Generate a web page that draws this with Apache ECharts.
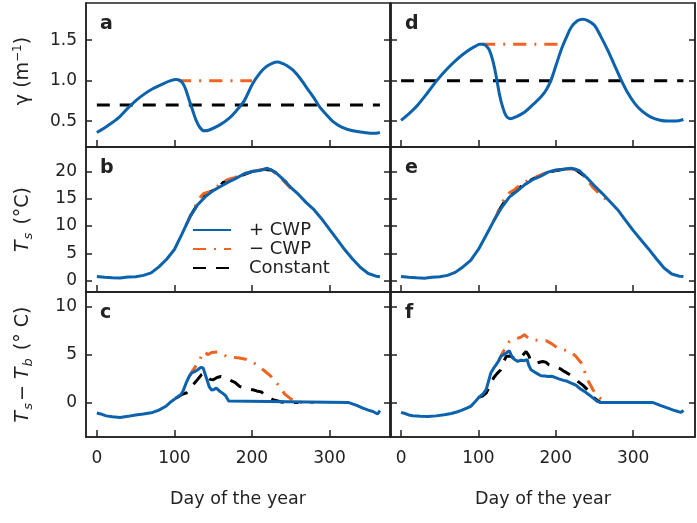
<!DOCTYPE html>
<html><head><meta charset="utf-8">
<script src="https://cdn.jsdelivr.net/npm/echarts@6/dist/echarts.min.js"></script>
<style>html,body{margin:0;padding:0;background:#fff}#c{width:697px;height:523px}</style>
</head><body><div id="c"></div>
<script>
// ---------- tick labels ----------
const xTicks = [0, 100, 200, 300];
const gTicks = [0.5, 1.0, 1.5];
const tsTicks = [0, 5, 10, 15, 20];
const dtTicks = [0, 5, 10];
const seriesNames = ['+ CWP', '\u2212 CWP', 'Constant'];
const panelLetters = ['a', 'b', 'c', 'd', 'e', 'f'];

// ---------- panel a (gamma, left) ----------
const aDay  = [0, 15, 29, 40, 51, 62, 72, 85, 95, 102, 106, 111, 115, 119, 124, 128, 133, 138, 145, 158, 170, 180, 190, 201, 210, 218, 226, 233, 240, 246, 253, 262, 270, 279, 287, 296, 305, 315, 330, 345, 352, 360, 365];
const aPlus = [0.36, 0.45, 0.55, 0.66, 0.76, 0.84, 0.90, 0.96, 1.00, 1.015, 1.01, 0.965, 0.88, 0.76, 0.62, 0.51, 0.42, 0.38, 0.39, 0.45, 0.53, 0.63, 0.75, 0.965, 1.09, 1.17, 1.215, 1.23, 1.21, 1.18, 1.13, 1.03, 0.92, 0.80, 0.68, 0.58, 0.49, 0.43, 0.38, 0.36, 0.35, 0.35, 0.36];
const aMinusDay = [105, 200];
const aMinusVal = [1.0, 1.0];
const aConstDay = [0, 365];
const aConstVal = [0.7, 0.7];

// ---------- panel d (gamma, right) ----------
const dDay  = [0, 10, 21.6, 35, 47, 60, 73, 85, 95, 102, 106, 110, 114, 118, 121, 124, 127, 130, 134, 137, 141, 150, 159.5, 170, 181, 188, 194, 200, 207, 214, 220, 228, 235, 242, 250, 258, 267, 276, 284.5, 293, 302, 312, 323, 335, 345, 355, 365];
const dPlus = [0.51, 0.59, 0.70, 0.86, 1.01, 1.15, 1.27, 1.36, 1.42, 1.45, 1.45, 1.43, 1.38, 1.27, 1.15, 1.0, 0.84, 0.72, 0.60, 0.55, 0.53, 0.56, 0.61, 0.70, 0.80, 0.89, 1.01, 1.18, 1.38, 1.54, 1.66, 1.74, 1.76, 1.74, 1.685, 1.55, 1.38, 1.19, 1.01, 0.85, 0.72, 0.62, 0.55, 0.51, 0.50, 0.50, 0.52];
const dMinusDay = [105, 209];
const dMinusVal = [1.45, 1.45];
const dConstDay = [0, 365];
const dConstVal = [1.0, 1.0];

// ---------- panel b (Ts, left) ----------
const bDay  = [0, 10, 20, 30, 40, 50, 60, 70, 80, 90, 100, 110, 120, 130, 140, 150, 160, 170, 180, 190, 200, 210, 220, 230, 240, 250, 260, 270, 280, 290, 300, 310, 320, 330, 340, 350, 360, 365];
const bPlus = [0.75, 0.6, 0.5, 0.45, 0.65, 0.7, 0.95, 1.4, 2.5, 3.9, 5.7, 8.6, 11.7, 13.9, 15.4, 16.5, 17.3, 18.1, 18.8, 19.6, 20.0, 20.2, 20.6, 19.9, 18.6, 17.1, 15.8, 14.3, 13.0, 11.3, 9.4, 7.5, 5.6, 3.9, 2.4, 1.3, 0.8, 0.7];
const bMinusDay = [115, 122, 128, 133, 137, 141, 146, 152, 158, 164, 170, 176, 182, 190, 200, 210, 220, 226, 232, 238, 244, 250, 256];
const bMinusVal = [10.1, 12.3, 13.9, 15.2, 15.9, 16.1, 16.3, 16.8, 17.6, 18.2, 18.6, 18.8, 19.1, 19.6, 20.0, 20.3, 20.5, 20.1, 19.5, 18.7, 17.8, 16.9, 16.1];
const bConstDay = [120, 128, 135, 141, 147, 155, 163, 170, 180, 200, 215, 225, 235, 245];
const bConstVal = [11.7, 13.6, 14.9, 15.9, 16.3, 16.9, 18.0, 18.3, 18.9, 20.0, 20.4, 20.3, 19.3, 17.9];

// ---------- panel e (Ts, right) ----------
const eDay  = [0, 10, 20, 30, 40, 50, 60, 70, 80, 90, 100, 110, 120, 130, 140, 150, 160, 170, 180, 190, 200, 210, 220, 230, 240, 250, 260, 270, 280, 290, 300, 310, 320, 330, 340, 350, 360, 365];
const ePlus = [0.75, 0.6, 0.5, 0.44, 0.6, 0.7, 0.95, 1.5, 2.5, 3.7, 5.7, 8.3, 11.0, 13.4, 15.3, 16.4, 17.6, 18.5, 19.1, 19.9, 20.3, 20.4, 20.6, 20.2, 18.9, 17.4, 16.0, 14.5, 13.0, 11.1, 9.2, 7.5, 5.8, 4.0, 2.3, 1.2, 0.8, 0.75];
const eMinusDay = [120, 127, 132, 136, 140, 146, 154, 162, 170, 178, 186, 195, 205, 215, 225, 232, 240, 248, 256, 262, 268];
const eMinusVal = [11.0, 13.0, 14.6, 15.6, 16.1, 16.6, 17.6, 18.2, 18.7, 19.2, 19.7, 20.1, 20.3, 20.5, 20.4, 19.9, 18.6, 17.1, 16.0, 15.2, 14.6];
const eConstDay = [125, 132, 138, 145, 152, 160, 170, 190, 210, 225, 240];
const eConstVal = [12.5, 14.1, 15.1, 16.1, 16.9, 17.8, 18.6, 19.9, 20.4, 20.4, 18.9];

// ---------- panel c (Ts - Tb, left) ----------
const cDay  = [0, 5, 12, 20, 30, 40, 50, 60, 72, 80, 89, 96, 102, 108, 111, 115, 119, 122, 126, 130, 134, 137, 139, 142, 145, 148, 151, 154, 158, 162, 166, 170, 172, 324, 335, 343, 350, 356, 362, 364, 365];
const cPlus = [-1.1, -1.2, -1.4, -1.5, -1.56, -1.45, -1.3, -1.2, -1.04, -0.8, -0.4, 0.1, 0.45, 0.8, 1.15, 2.0, 2.7, 3.06, 3.2, 3.4, 3.65, 3.6, 3.4, 2.36, 1.6, 1.3, 1.35, 1.5, 1.2, 0.97, 0.7, 0.15, 0, 0, -0.3, -0.59, -0.8, -0.94, -1.2, -1.28, -0.85];
const cMinusDay = [119, 122, 126, 131, 136, 139, 143, 148, 156, 163, 169, 176, 184, 192, 199, 207, 216, 222, 229, 236, 242, 248, 253, 260, 265, 280];
const cMinusVal = [2.7, 3.1, 3.6, 4.17, 5.0, 5.3, 4.97, 5.2, 5.25, 5.0, 4.7, 4.7, 4.62, 4.5, 4.27, 3.9, 3.3, 2.9, 2.36, 1.6, 0.9, 0.5, 0.2, 0.05, 0, 0];
const cConstDay = [102, 105, 110, 115, 120, 124, 130, 135, 138, 142, 146, 150, 155, 160, 166, 172, 178, 184, 190, 196, 201, 206, 212, 218, 223, 228, 232, 238, 243, 260];
const cConstVal = [0.45, 0.6, 0.85, 0.97, 1.4, 1.84, 2.4, 2.9, 3.05, 2.8, 2.4, 2.36, 2.6, 2.7, 2.55, 2.3, 2.1, 1.67, 1.5, 1.35, 1.32, 1.2, 1.1, 0.7, 0.45, 0.25, 0.17, 0.05, 0, 0];

// ---------- panel f (Ts - Tb, right) ----------
const fDay  = [0, 5, 10, 15, 25, 35, 45, 56, 65, 72, 78, 85, 90, 96, 101, 106, 110, 113, 116, 120, 123, 126, 129, 133, 136, 138, 140, 142, 144.5, 148, 151, 155, 159, 163, 165, 168, 172, 176, 181, 186, 190, 194, 198, 204, 210, 215, 220, 226, 232, 237, 242, 246, 250, 254, 258, 325, 335, 345, 352, 358, 362, 365];
const fPlus = [-1.04, -1.15, -1.3, -1.39, -1.45, -1.46, -1.4, -1.28, -1.15, -1.0, -0.83, -0.6, -0.41, 0.1, 0.56, 0.9, 1.32, 2.2, 3.06, 3.6, 3.93, 4.3, 4.8, 5.0, 5.14, 5.2, 5.38, 5.0, 4.62, 4.4, 4.27, 4.4, 4.35, 4.45, 3.9, 3.4, 3.2, 3.0, 2.78, 2.75, 2.7, 2.72, 2.64, 2.45, 2.3, 2.2, 2.0, 1.8, 1.4, 1.15, 0.85, 0.6, 0.35, 0.1, 0, 0, -0.3, -0.59, -0.8, -0.95, -1.04, -0.83];
const fMinusDay = [126, 129, 132, 136, 140, 148, 155, 159.5, 163, 166, 172, 180, 187.5, 195, 202.6, 210, 220, 226, 233, 237, 241, 245, 248, 252, 255, 258.6, 263, 267, 280];
const fMinusVal = [4.3, 4.8, 5.3, 5.66, 6.35, 6.6, 6.8, 7.05, 6.8, 6.6, 6.5, 6.45, 6.43, 6.1, 5.66, 5.5, 5.24, 4.8, 4.1, 3.3, 2.36, 1.8, 1.32, 0.9, 0.6, 0.35, 0.1, 0, 0];
const fConstDay = [101, 106, 110, 115, 120, 124, 129, 133, 136, 138, 142, 146, 150, 155, 161.6, 165, 168, 175, 183, 187, 191, 200, 206, 211, 220, 228.5, 235, 241, 245, 250, 254, 258, 270];
const fConstVal = [0.56, 0.7, 0.97, 1.8, 2.6, 3.0, 3.4, 4.3, 4.8, 5.0, 4.8, 4.6, 4.5, 4.7, 5.3, 4.9, 4.27, 4.1, 4.27, 4.2, 3.93, 3.7, 3.5, 3.23, 2.8, 2.19, 1.8, 1.32, 0.9, 0.45, 0.2, 0, 0];

// ---------- layout / style ----------
const FONT = 'DejaVu Sans';
const TXT = '#222';
const colLeft = [86, 391], colW = 304;
const rowTop = [3, 147, 292], rowH = [144, 145, 145];
const xRange = [[-14, 378], [-13, 380]];
const yRanges = [[0.18, 1.96], [-2.1, 24.5], [-3.6, 11.5]];
const yTicksByRow = [gTicks, tsTicks, dtTicks];
const yFmt = [v => v.toFixed(1), v => String(v), v => String(v)];

const lineStyles = [
  { color: '#0b62ad', width: 3, type: 'solid' },
  { color: '#ee6420', width: 3, type: [13, 8, 2, 8] },
  { color: '#000000', width: 3, type: [13, 10] }
];

const panelData = [
  [aDay, aPlus, aMinusDay, aMinusVal, aConstDay, aConstVal],
  [bDay, bPlus, bMinusDay, bMinusVal, bConstDay, bConstVal],
  [cDay, cPlus, cMinusDay, cMinusVal, cConstDay, cConstVal],
  [dDay, dPlus, dMinusDay, dMinusVal, dConstDay, dConstVal],
  [eDay, ePlus, eMinusDay, eMinusVal, eConstDay, eConstVal],
  [fDay, fPlus, fMinusDay, fMinusVal, fConstDay, fConstVal]
];

const grid = [], xAxis = [], yAxis = [], series = [], graphic = [];
const tickStyle = { color: TXT, width: 1.5 };
const axLine = { show: true, onZero: false, lineStyle: { color: TXT, width: 1.5 } };

for (let col = 0; col < 2; col++) {
  for (let row = 0; row < 3; row++) {
    const gi = col * 3 + row;
    grid.push({ left: colLeft[col], top: rowTop[row], width: colW, height: rowH[row], show: true, borderColor: TXT, borderWidth: 1.5, backgroundColor: 'transparent', containLabel: false });
    const bottomRow = row === 2;
    xAxis.push({
      type: 'value', gridIndex: gi, position: 'bottom', min: xRange[col][0], max: xRange[col][1],
      axisLine: axLine, splitLine: { show: false },
      axisTick: { show: true, inside: true, length: 7, customValues: xTicks, lineStyle: tickStyle },
      axisLabel: { show: bottomRow, customValues: xTicks, margin: 13, fontSize: 17, fontFamily: FONT, color: TXT },
      name: bottomRow ? 'Day of the year' : '', nameLocation: 'middle', nameGap: 53,
      nameTextStyle: { fontSize: 17.5, fontFamily: FONT, color: TXT }
    });
    const yt = yTicksByRow[row];
    ['left', 'right'].forEach(pos => {
      yAxis.push({
        type: 'value', gridIndex: gi, position: pos, min: yRanges[row][0], max: yRanges[row][1],
        axisLine: axLine, splitLine: { show: false },
        axisTick: { show: true, inside: true, length: 6, customValues: yt, lineStyle: tickStyle },
        axisLabel: { show: pos === 'left' && col === 0, customValues: yt, formatter: yFmt[row], margin: 9, fontSize: 17, fontFamily: FONT, color: TXT }
      });
    });
    const pd = panelData[gi];
    const smooth = row === 0 ? 0.35 : false;
    // draw order: constant, minus, plus (plus on top)
    [2, 1, 0].forEach(k => {
      const days = pd[k * 2], vals = pd[k * 2 + 1];
      series.push({
        type: 'line', name: seriesNames[k], xAxisIndex: gi, yAxisIndex: gi * 2,
        data: days.map((d, i) => [d, vals[i]]), symbol: 'none', smooth: smooth,
        lineStyle: lineStyles[k], itemStyle: { color: lineStyles[k].color },
        z: 2 + (2 - k), animation: false, silent: true
      });
    });
    // panel letter
    graphic.push({
      type: 'text', x: colLeft[col] + 14, y: rowTop[row] + 21,
      style: { text: panelLetters[gi], font: 'bold 19px "DejaVu Sans"', fill: TXT, verticalAlign: 'middle', align: 'left' }
    });
  }
}

// y axis titles
const yTitles = [
  { text: '{n|\u03b3 (m}{sp|\u22121}{n|)}', y: rowTop[0] + rowH[0] / 2 - 4 },
  { text: '{it|T}{sb|s}{n| (\u00b0C)}', y: rowTop[1] + rowH[1] / 2 },
  { text: '{it|T}{sb|s}{n|\u2212 }{it|T}{sb|b}{n| (\u00b0 C)}', y: rowTop[2] + rowH[2] / 2 }
];
const rich = {
  n: { fontSize: 19, fontFamily: FONT, color: TXT },
  it: { fontSize: 19, fontFamily: FONT, fontStyle: 'italic', color: TXT },
  sb: { fontSize: 13, fontFamily: FONT, fontStyle: 'italic', color: TXT, padding: [12, 2, 0, 1] },
  sp: { fontSize: 12, fontFamily: FONT, color: TXT, padding: [0, 0, 10, 0] }
};
yTitles.forEach(t => {
  graphic.push({
    type: 'text', x: 23, y: t.y, rotation: Math.PI / 2,
    style: { text: t.text, rich: rich, align: 'center', verticalAlign: 'middle', fill: TXT }
  });
});

const chart = echarts.init(document.getElementById('c'), null, { renderer: 'canvas' });
chart.setOption({
  animation: false,
  backgroundColor: '#fff',
  grid, xAxis, yAxis, series, graphic,
  legend: {
    data: seriesNames, orient: 'vertical', left: 192, top: 221, padding: 0,
    itemWidth: 38, itemHeight: 14, itemGap: 1, selectedMode: false,
    itemStyle: { color: 'rgba(0,0,0,0)', borderWidth: 0, opacity: 0 },
    textStyle: { fontSize: 18, fontFamily: FONT, color: TXT, padding: [0, 0, 0, 13], lineHeight: 18 }
  }
});
</script>
</body></html>
